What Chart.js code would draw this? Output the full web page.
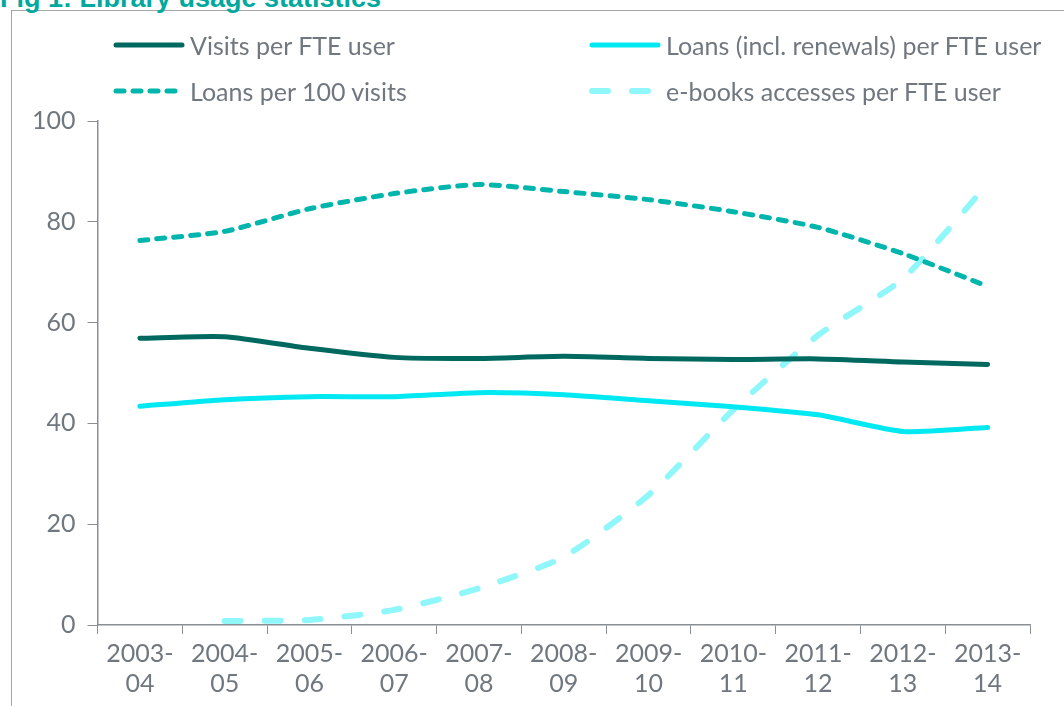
<!DOCTYPE html>
<html>
<head>
<meta charset="utf-8">
<script src="https://cdn.jsdelivr.net/npm/chart.js@4/dist/chart.umd.min.js"></script>
<style>
  body { margin: 0; background: #fff; font-family: Lato, "Open Sans", sans-serif; }
  #wrap { position: relative; width: 1064px; height: 706px; overflow: hidden; }
  #title { position: absolute; left: 0; top: -17px; font: bold 27px "Liberation Sans", Arial, sans-serif; color: #00a99d; white-space: nowrap; }
  #frame { position: absolute; left: 11px; top: 10px; width: 1100px; height: 720px; border: 1px solid #a6a6a6; box-sizing: border-box; }
  #chart { position: absolute; left: 0; top: 0; }
  .leg { position: absolute; display: flex; align-items: center; font-size: 25px; color: #70777f; white-space: nowrap; }
  .leg svg { margin-right: 5px; }
</style>
</head>
<body>
<div id="wrap">
  <div id="frame"></div>
  <div id="title">Fig 1: Library usage statistics</div>
  <canvas id="chart" width="1064" height="706"></canvas>
  <div id="legend"></div>
</div>
<script>
// categories
let years = [['2003-','04'],['2004-','05'],['2005-','06'],['2006-','07'],['2007-','08'],['2008-','09'],
             ['2009-','10'],['2010-','11'],['2011-','12'],['2012-','13'],['2013-','14']]

// series
let visitsPerUser = [56.9, 57.2, 54.9, 53.1, 52.9, 53.3, 52.9, 52.7, 52.8, 52.2, 51.7]
let loansPerUser = [43.4, 44.7, 45.3, 45.3, 46.1, 45.7, 44.5, 43.3, 41.7, 38.4, 39.2]
let loansPer100Visits = [76.3, 78.1, 82.6, 85.6, 87.4, 86.0, 84.4, 82.0, 78.9, 73.7, 67.2]
let ebookAccesses = [null, 0.8, 1.0, 3.0, 7.3, 13.5, 25.8, 42.7, 57.5, 68.7, 87.5]

let yTicks = [0, 20, 40, 60, 80, 100]

let textColor = '#70777f'
let axisColor = '#8a8f94'

let series = [
  { label: 'Visits per FTE user', data: visitsPerUser, color: '#00695f', width: 5, dash: [] },
  { label: 'Loans (incl. renewals) per FTE user', data: loansPerUser, color: '#00e8f2', width: 5, dash: [] },
  { label: 'Loans per 100 visits', data: loansPer100Visits, color: '#00b5ab', width: 5, dash: [8, 9] },
  { label: 'e-books accesses per FTE user', data: ebookAccesses, color: '#8ff7fa', width: 6, dash: [16, 24] }
]

// html legend, two columns
let legendPos = [[113, 46], [589, 46], [113, 92], [589, 92]]
let legend = document.getElementById('legend')
series.forEach((s, i) => {
  let d = document.createElement('div')
  d.className = 'leg'
  d.style.left = legendPos[i][0] + 'px'
  d.style.top = (legendPos[i][1] - 16) + 'px'
  let dash = s.dash.length ? `stroke-dasharray="${s.dash.join(' ')}"` : ''
  d.innerHTML = `<svg width="72" height="10"><line x1="3" y1="5" x2="69" y2="5" stroke="${s.color}"
     stroke-width="${s.width}" stroke-linecap="round" ${dash}/></svg><span>${s.label}</span>`
  legend.appendChild(d)
})

new Chart(document.getElementById('chart'), {
  type: 'line',
  data: {
    labels: years,
    datasets: series.map(s => ({
      label: s.label,
      data: s.data,
      borderColor: s.color,
      borderWidth: s.width,
      borderDash: s.dash,
      borderCapStyle: 'round',
      borderJoinStyle: 'round',
      pointRadius: 0,
      tension: 0.2,
      fill: false
    }))
  },
  options: {
    responsive: false,
    animation: false,
    layout: { padding: { top: 121, right: 34, bottom: 2, left: 20 } },
    plugins: { legend: { display: false }, tooltip: { enabled: false } },
    scales: {
      x: {
        offset: true,
        border: { color: axisColor, width: 1.5 },
        grid: { offset: true, drawOnChartArea: false, color: axisColor, tickLength: 9 },
        ticks: { color: textColor, font: { family: 'Lato', size: 25 }, maxRotation: 0, padding: 5 }
      },
      y: {
        min: 0, max: 100,
        afterBuildTicks: axis => { axis.ticks = yTicks.map(v => ({ value: v })) },
        border: { color: axisColor, width: 1.5 },
        grid: { drawOnChartArea: false, color: axisColor, tickLength: 10 },
        ticks: { color: textColor, font: { family: 'Lato', size: 25 }, padding: 12 }
      }
    }
  }
})
</script>
</body>
</html>
